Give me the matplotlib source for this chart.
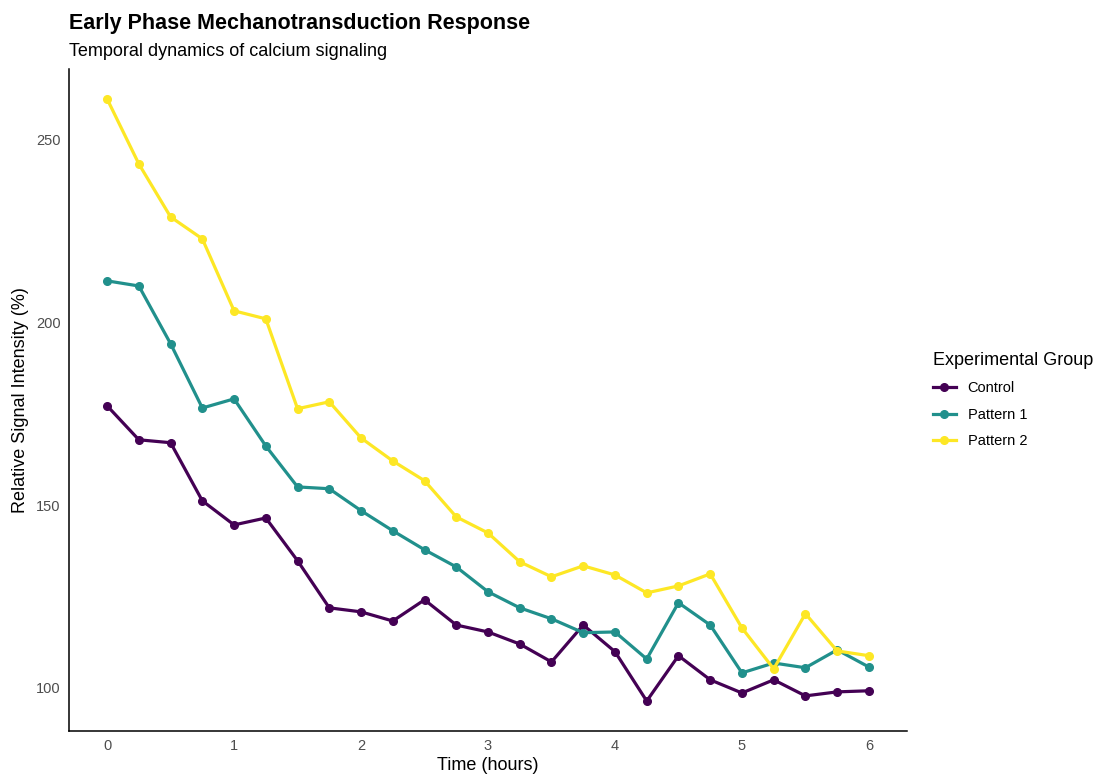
import matplotlib
matplotlib.use("Agg")
import matplotlib.pyplot as plt

plt.rcParams["font.family"] = ["Liberation Sans", "DejaVu Sans"]

# time points (hours)
time_h = [0, 0.25, 0.5, 0.75, 1, 1.25, 1.5, 1.75, 2, 2.25, 2.5, 2.75, 3,
          3.25, 3.5, 3.75, 4, 4.25, 4.5, 4.75, 5, 5.25, 5.5, 5.75, 6]

control = [177.2, 167.9, 167.1, 151.2, 144.6, 146.5, 134.8, 121.9, 120.8, 118.3,
           124.1, 117.2, 115.3, 112.0, 107.1, 117.2, 109.9, 96.4, 108.8, 102.2,
           98.6, 102.2, 97.8, 98.9, 99.2]
pattern1 = [211.4, 210.0, 194.2, 176.6, 179.1, 166.2, 155.0, 154.5, 148.5, 143.0,
            137.8, 133.1, 126.3, 121.9, 118.9, 115.1, 115.3, 107.9, 123.3, 117.2,
            104.1, 106.8, 105.5, 110.4, 105.7]
pattern2 = [261.2, 243.4, 228.9, 222.9, 203.2, 201.0, 176.4, 178.3, 168.4, 162.1,
            156.7, 146.8, 142.4, 134.5, 130.4, 133.4, 130.9, 126.0, 127.9, 131.2,
            116.4, 105.2, 120.3, 110.1, 108.8]

groups = ["Control", "Pattern 1", "Pattern 2"]
colors = ["#440154", "#21908C", "#FDE725"]

fig = plt.figure(figsize=(10.99, 7.74), dpi=100)
ax = fig.add_axes([0.0628, 0.0556, 0.7625, 0.8553])

for name, vals, c in zip(groups, [control, pattern1, pattern2], colors):
    ax.plot(time_h, vals, color=c, lw=2.3, marker="o", ms=5.5, label=name)

ax.set_xlim(-0.3, 6.3)
ax.set_ylim(88.2, 269.4)
ax.set_xticks([0, 1, 2, 3, 4, 5, 6])
ax.set_yticks([100, 150, 200, 250])
ax.tick_params(length=0, labelsize=10.5, labelcolor="#4d4d4d", pad=6)
for s in ["top", "right"]:
    ax.spines[s].set_visible(False)
for s in ["left", "bottom"]:
    ax.spines[s].set_linewidth(1.1)
    ax.spines[s].set_color("black")

ax.set_xlabel("Time (hours)", fontsize=13, labelpad=3)
ax.set_ylabel("Relative Signal Intensity (%)", fontsize=13, labelpad=5)

fig.text(0.0628, 0.970, "Early Phase Mechanotransduction Response",
         fontsize=15.5, fontweight="bold", va="center")
fig.text(0.0628, 0.934, "Temporal dynamics of calcium signaling",
         fontsize=13, va="center")

leg = ax.legend(title="Experimental Group", loc="center left",
                bbox_to_anchor=(1.015, 0.5), frameon=False, fontsize=10.5,
                title_fontsize=13, handlelength=1.6, handletextpad=0.8,
                labelspacing=0.85)
leg._legend_box.align = "left"

fig.savefig("out.png", dpi=100)
